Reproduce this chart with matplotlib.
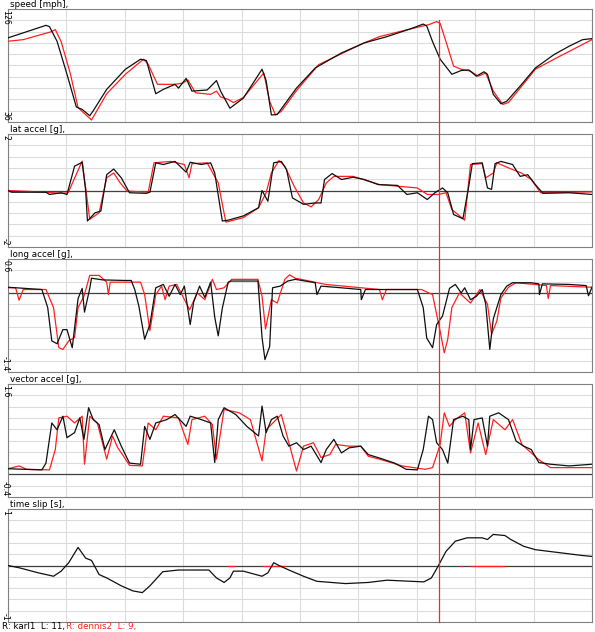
import numpy as np
import matplotlib
matplotlib.use("Agg")
import matplotlib.pyplot as plt
from matplotlib.lines import Line2D

# distance along lap, % of lap
spd_k_x = [0, 6.5, 7.1, 8.4, 10.1, 11.7, 12.7, 14.0, 14.6, 16.9, 20.1, 22.7, 23.7, 25.3, 26.6, 28.6, 29.2,
           30.5, 31.5, 34.1, 35.7, 36.4, 38.0, 40.3, 43.5, 44.2, 45.1, 46.1, 49.4, 52.6, 57.1, 61.0, 64.9,
           68.8, 71.1, 71.7, 72.7, 74.0, 76.0, 77.6, 78.9, 80.2, 81.5, 82.1, 83.1, 84.4, 85.4, 87.7, 90.3,
           93.5, 96.1, 98.4, 100]
spd_k = [103, 113, 112, 100.3, 74, 48, 46, 41, 45, 62, 78, 86, 85, 58.5, 62, 66, 63, 70.7, 60.6, 61.5, 69,
         60.6, 47, 55, 78, 69, 41.6, 42, 63, 79, 91, 99, 104, 110, 114, 112.5, 100, 86, 74, 77, 77.5, 72.5,
         76, 74, 58, 50.6, 52.5, 64.6, 79, 89.7, 96.4, 101.6, 102.4]
spd_r_x = [0, 2.6, 7.5, 8.1, 9.1, 10.7, 12.0, 14.3, 16.9, 20.1, 23.2, 24.0, 25.6, 28.6, 29.9, 30.8, 32.1,
           34.7, 35.7, 36.4, 37.7, 38.6, 40.3, 43.8, 44.8, 45.8, 46.8, 49.4, 53.2, 57.1, 61.0, 63.6, 68.8,
           72.1, 73.4, 74.0, 75.0, 76.3, 77.6, 79.2, 80.5, 81.8, 83.1, 84.7, 85.7, 90.3, 93.5, 100]
spd_r = [100.3, 101.6, 108, 109.6, 100, 74, 47.4, 37.6, 58.5, 74, 86, 82, 66, 66, 67, 69.5, 59.3, 58, 60.6,
         56, 54, 51.5, 55.5, 75, 52.5, 41.6, 44.5, 61, 81.7, 90.4, 99, 104, 110, 113.6, 116, 114.5, 100,
         80.5, 78, 76.5, 72.5, 75, 60.6, 50, 51.5, 78, 86, 101.6]

lat_k_x = [0, 0.6, 6.5, 7.1, 9.1, 10.1, 11.4, 12.7, 13.3, 13.6, 14.9, 15.9, 16.9, 18.1, 19.4, 20.8, 23.7,
           24.3, 25.3, 26.6, 28.6, 30.5, 31.2, 33.1, 34.7, 35.4, 36.7, 37.7, 40.3, 42.9, 43.5, 44.5, 45.5,
           46.8, 47.7, 48.7, 50.6, 52.6, 53.6, 54.2, 55.5, 57.1, 59.1, 61.0, 63.4, 66.7, 68.3, 70.1, 71.8,
           73.1, 74.4, 75.3, 76.3, 77.9, 78.9, 79.5, 81.2, 82.1, 82.8, 83.4, 84.4, 86.4, 87.7, 89.0, 90.3,
           91.6, 96.1, 100]
lat_k = [0, -0.06, -0.06, -0.14, -0.08, -0.14, 0.86, 1.0, 0, -1.08, -0.79, -0.73, 0.56, 0.76, 0.45, -0.08,
         -0.1, -0.06, 0.98, 0.92, 1.03, 0.65, 1.0, 0.92, 0.98, 0.62, -1.08, -1.05, -0.9, -0.61, 0, -0.38,
         0.98, 1.03, 0.74, -0.26, -0.49, -0.44, -0.44, 0.39, 0.6, 0.39, 0.47, 0.39, 0.21, 0.18, -0.14,
         -0.08, -0.32, -0.08, 0.09, -0.08, -0.85, -1.0, 0.15, 0.95, 0.98, 0.09, 0.04, 0.95, 1.03, 0.92, 0.5,
         0.56, 0.21, -0.1, -0.08, -0.14]
lat_r_x = [0, 6.5, 9.1, 10.3, 12.7, 14.0, 15.6, 16.9, 18.1, 19.2, 20.4, 24.0, 25.0, 27.9, 30.2, 31.0, 31.5,
           34.1, 36.0, 37.3, 40.3, 42.9, 44.2, 45.1, 46.4, 47.4, 49.0, 50.6, 51.9, 53.2, 54.5, 55.8, 59.1,
           63.6, 70.1, 71.8, 73.7, 75.0, 76.0, 78.2, 79.2, 81.2, 81.8, 83.1, 83.7, 85.7, 87.9, 89.6, 91.2, 100]
lat_r = [0, -0.06, -0.1, -0.08, 1.04, -1.02, -0.79, 0.45, 0.62, 0.27, -0.02, -0.06, 0.98, 1.03, 0.92, 0.45,
         0.95, 0.98, 0.27, -1.12, -0.96, -0.61, -0.08, 0.62, 1.06, 0.86, 0.15, -0.44, -0.58, -0.32, 0.27,
         0.5, 0.5, 0.21, 0.09, -0.14, -0.14, -0.08, -0.67, -1.05, 0.92, 0.95, 0.45, 0.62, 0.98, 0.8, 0.62,
         0.39, -0.08, -0.05]

lng_k_x = [0, 5.8, 6.8, 7.5, 8.4, 9.4, 10.1, 11.0, 12.0, 12.7, 13.1, 14.0, 14.3, 16.2, 20.1, 21.1, 21.7,
           22.4, 23.4, 24.3, 25.3, 26.6, 27.6, 28.6, 29.5, 30.2, 31.2, 31.8, 32.8, 33.7, 34.7, 35.4, 36.0,
           36.7, 37.7, 38.2, 42.8, 43.5, 44.0, 44.8, 45.3, 46.6, 47.9, 49.2, 52.6, 52.9, 53.6, 57.1, 60.4,
           60.5, 61.2, 66.7, 70.1, 71.1, 71.7, 72.7, 73.4, 74.4, 75.6, 76.6, 77.6, 78.2, 79.2, 80.2, 81.2,
           81.8, 82.5, 83.1, 83.7, 84.4, 85.4, 86.4, 89.6, 90.9, 91.0, 91.5, 96.1, 99.0, 99.4, 100]
lng_k = [0.1, 0.06, -0.26, -0.85, -0.9, -0.65, -0.65, -0.97, -0.1, 0.08, -0.34, 0.08, 0.26, 0.23, 0.22, 0.22,
         0.06, -0.23, -0.82, -0.56, 0.09, 0.15, -0.06, 0.15, -0.03, 0.12, -0.56, -0.16, 0.12, -0.08, 0.19,
         -0.43, -0.76, -0.27, 0.19, 0.21, 0.21, -0.79, -1.18, -0.95, 0.09, 0.12, 0.21, 0.24, 0.18, -0.03,
         0.12, 0.09, 0.06, -0.12, 0.06, 0.06, 0.06, -0.26, -0.8, -0.97, -0.56, -0.41, 0.08, 0.15, 0.0, 0.09,
         -0.12, -0.06, 0.06, -0.2, -1.0, -0.46, -0.26, -0.03, 0.12, 0.18, 0.18, 0.16, -0.03, 0.16, 0.15,
         0.13, -0.05, 0.1]
lng_r_x = [0, 1.3, 1.9, 2.6, 6.5, 7.8, 8.7, 9.4, 10.4, 11.4, 12.0, 13.0, 14.0, 15.6, 16.9, 17.2, 17.5,
           22.7, 23.4, 24.3, 25.3, 26.3, 26.9, 27.6, 28.9, 31.1, 32.4, 33.7, 35.0, 35.7, 37.0, 38.3, 42.8,
           43.5, 44.1, 45.1, 46.1, 47.4, 48.2, 49.2, 54.4, 63.6, 64.1, 64.8, 70.8, 72.7, 74.0, 74.7, 75.3,
           76.0, 77.3, 79.2, 80.8, 82.1, 82.8, 83.7, 84.4, 85.7, 87.0, 92.2, 92.5, 92.9, 100]
lng_r = [0.09, 0.09, -0.13, 0.06, 0.06, -0.26, -0.97, -1.0, -0.85, -0.79, -0.26, -0.06, 0.31, 0.31, 0.19,
         -0.03, 0.19, 0.19, -0.03, -0.67, -0.03, 0.12, -0.12, 0.12, 0.15, -0.3, 0.0, -0.12, 0.24, 0.06, 0.09,
         0.24, 0.24, -0.06, -0.64, -0.12, -0.18, 0.24, 0.32, 0.26, 0.15, 0.06, -0.12, 0.06, 0.06, -0.03,
         -0.68, -1.06, -0.82, -0.26, 0.0, -0.18, 0.06, -0.2, -0.73, -0.5, -0.09, 0.1, 0.18, 0.13, -0.1, 0.13,
         0.1]

vec_k_x = [0, 5.8, 6.5, 7.5, 8.4, 9.4, 10.1, 11.4, 12.3, 13.0, 13.8, 14.6, 15.6, 16.6, 18.2, 19.4, 20.8,
           22.7, 23.4, 24.3, 25.3, 27.2, 28.6, 30.5, 31.2, 33.1, 34.7, 35.4, 36.0, 37.0, 39.0, 40.9, 42.9,
           43.5, 44.2, 45.1, 46.1, 47.1, 48.1, 49.4, 50.6, 51.9, 53.6, 54.5, 55.8, 57.1, 58.4, 60.4, 61.7,
           63.6, 66.2, 68.2, 70.1, 71.1, 72.0, 72.7, 73.4, 74.4, 75.3, 76.3, 77.9, 78.9, 79.2, 79.8, 81.2,
           82.1, 82.5, 84.0, 85.7, 87.0, 88.3, 89.6, 90.9, 92.9, 96.1, 100]
vec_k = [0.1, 0.08, 0.2, 0.91, 0.79, 1.03, 0.65, 0.74, 1.0, 0.62, 1.18, 0.97, 0.88, 0.44, 0.79, 0.5, 0.2,
         0.18, 0.85, 0.62, 0.91, 0.97, 1.06, 0.85, 1.03, 0.97, 0.91, 0.21, 0.97, 1.18, 1.06, 0.85, 0.68,
         1.21, 0.74, 0.97, 1.03, 0.68, 0.5, 0.56, 0.44, 0.5, 0.21, 0.44, 0.62, 0.38, 0.47, 0.5, 0.35, 0.29,
         0.2, 0.09, 0.08, 0.44, 1.03, 0.97, 0.56, 0.44, 0.2, 0.97, 1.03, 0.97, 0.44, 0.97, 1.0, 0.5, 1.03,
         1.09, 0.97, 0.59, 0.5, 0.44, 0.21, 0.18, 0.15, 0.18]
vec_r_x = [0, 1.9, 3.2, 7.1, 8.1, 8.7, 10.1, 11.4, 12.7, 13.1, 14.0, 15.3, 16.9, 17.9, 18.8, 19.8, 20.8,
           23.0, 24.0, 25.3, 26.6, 29.2, 30.8, 31.5, 33.7, 35.0, 35.7, 37.0, 39.6, 41.5, 43.5, 44.2, 46.8,
           48.1, 49.4, 50.6, 52.3, 53.6, 55.1, 56.1, 58.4, 60.4, 61.7, 63.6, 67.5, 71.4, 72.7, 74.0, 74.7,
           75.6, 76.6, 78.2, 79.2, 80.5, 81.8, 83.1, 85.1, 86.4, 88.0, 89.6, 90.9, 92.9, 100]
vec_r = [0.1, 0.15, 0.09, 0.08, 0.44, 1.0, 1.03, 0.91, 1.03, 0.18, 1.03, 0.91, 0.27, 0.68, 0.47, 0.32,
         0.16, 0.15, 0.91, 0.79, 1.03, 1.0, 0.53, 0.97, 1.03, 0.88, 0.27, 1.15, 1.09, 0.97, 0.24, 0.79, 1.06,
         0.56, 0.06, 0.5, 0.56, 0.3, 0.35, 0.53, 0.5, 0.5, 0.32, 0.27, 0.15, 0.09, 0.12, 0.53, 1.09, 0.85,
         0.97, 1.09, 0.38, 0.91, 0.35, 0.97, 0.79, 0.97, 0.53, 0.38, 0.26, 0.12, 0.12]

slip_k_x = [0, 1.9, 5.2, 7.8, 9.1, 10.4, 12.0, 13.3, 14.3, 15.6, 16.9, 19.4, 21.4, 23.0, 24.3, 26.5, 29.2,
            34.4, 35.7, 37.0, 38.0, 38.6, 40.3, 43.5, 44.5, 45.5, 46.4, 48.1, 50.6, 52.9, 57.8, 61.7, 64.9,
            71.2, 72.5, 73.5, 75.0, 76.6, 78.6, 81.2, 82.1, 83.1, 85.1, 86.1, 88.3, 90.3, 94.2, 98.1, 100]
slip_k = [0, -0.04, -0.13, -0.19, -0.1, 0.05, 0.32, 0.13, 0.09, -0.16, -0.22, -0.36, -0.45, -0.48, -0.36,
          -0.11, -0.08, -0.08, -0.22, -0.3, -0.22, -0.1, -0.1, -0.19, -0.13, 0.05, 0.0, -0.08, -0.19, -0.28,
          -0.32, -0.3, -0.26, -0.29, -0.22, -0.04, 0.25, 0.43, 0.49, 0.49, 0.46, 0.55, 0.53, 0.46, 0.34,
          0.28, 0.23, 0.18, 0.16]
# red reference (dennis2) only shows short flat pieces at zero
slip_r_x = [37.6, 38.9, np.nan, 43.7, 47.4, np.nan, 77.5, 77.8, np.nan, 79.3, 85.0]
slip_r = [0, 0, np.nan, 0, 0, np.nan, 0, 0, np.nan, 0, 0]

cursor_x = 73.8

panels = [
    ("speed [mph],", spd_k_x, spd_k, spd_r_x, spd_r, 36, 126, "126", "36", False),
    ("lat accel [g],", lat_k_x, lat_k, lat_r_x, lat_r, -2, 2, "2", "-2", True),
    ("long accel [g],", lng_k_x, lng_k, lng_r_x, lng_r, -1.4, 0.6, "0.6", "-1.4", True),
    ("vector accel [g],", vec_k_x, vec_k, vec_r_x, vec_r, -0.4, 1.6, "1.6", "-0.4", True),
    ("time slip [s],", slip_k_x, slip_k, slip_r_x, slip_r, -1, 1, "1", "-1", True),
]

W, H = 595, 632
fig = plt.figure(figsize=(W / 100, H / 100), dpi=100)
plt.rcParams['font.family'] = ['DejaVu Sans']
fs = 6.3

for i, (name, kx, ky, rx, ry, lo, hi, tlab, blab, zline) in enumerate(panels):
    top = 9 + 125 * i
    ax = fig.add_axes([8 / W, 1 - (top + 113) / H, 584 / W, 113 / H])
    ax.set_xlim(0, 100)
    ax.set_ylim(lo, hi)
    ax.set_xticks(np.linspace(0, 100, 11))
    ax.set_yticks(np.linspace(lo, hi, 11))
    ax.grid(True, color="#dcdcdc", lw=0.8)
    ax.tick_params(length=0, labelbottom=False, labelleft=False)
    for s in ax.spines.values():
        s.set_color("#808080")
        s.set_linewidth(0.8)
    if zline:
        ax.axhline(0, color="#404040", lw=0.9, zorder=2)
    ax.plot(rx, ry, color="#ff2020", lw=0.9, zorder=3)
    ax.plot(kx, ky, color="#101010", lw=0.9, zorder=4)
    ax.text(0.004, 1.004, name, transform=ax.transAxes, ha="left", va="bottom", fontsize=fs)
    # rotated end labels at the left margin
    fig.text(1 / W, 1 - (top + 1) / H, tlab, ha="left", va="top", rotation=-90, fontsize=5.6)
    fig.text(1 / W, 1 - (top + 112) / H, blab, ha="left", va="bottom", rotation=-90, fontsize=5.6)

# cursor line through all panels
cx = (8 + cursor_x / 100 * 584) / W
fig.add_artist(Line2D([cx, cx], [1 - 20 / H, 1 - 622 / H], color="#e03030", lw=0.9))

fig.text(2 / W, 1 - 626 / H, "R: karl1  L: 11,", color="black", fontsize=fs, va="center")
fig.text(66 / W, 1 - 626 / H, "R: dennis2  L: 9,", color="#ff2020", fontsize=fs, va="center")

fig.savefig("out.png", dpi=100)
